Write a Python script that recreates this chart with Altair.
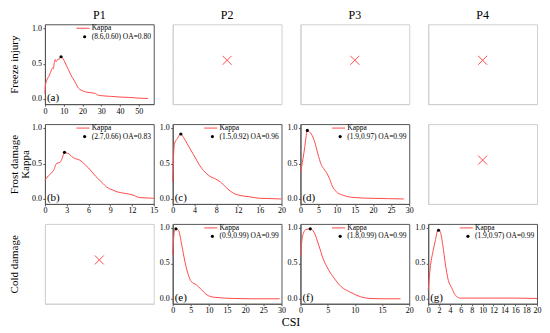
import altair as alt
import pandas as pd

# ---------------- data ----------------
col_titles = ["P1", "P2", "P3", "P4"]
row_titles = [["Freeze injury", " "], ["Frost damage", "Kappa"], ["Cold damage", " "]]

a_csi = [0, 0.3, 1, 2, 3, 4, 4.5, 5, 5.5, 6, 6.5, 7, 7.5, 8, 8.6, 9.5, 10.5, 11.5, 12.5, 13.5, 14.5,
         15.5, 16.5, 17.5, 18.5, 20, 22, 25, 27, 28, 30, 35, 40, 45, 50, 55]
a_kappa = [0.08, 0.2, 0.27, 0.32, 0.38, 0.44, 0.43, 0.52, 0.56, 0.53, 0.55, 0.57, 0.56, 0.59, 0.60, 0.58,
           0.53, 0.47, 0.42, 0.36, 0.31, 0.27, 0.22, 0.17, 0.14, 0.12, 0.10, 0.09, 0.08, 0.06, 0.05, 0.04,
           0.03, 0.025, 0.015, 0.01]

b_csi = [0, 0.5, 1, 1.3, 1.5, 1.8, 2.1, 2.4, 2.7, 3.0, 3.3, 3.7, 4.2, 4.8, 5.5, 6, 6.5, 7, 7.5, 8, 8.5,
         9, 9.5, 10, 11, 12, 12.5, 13, 14, 15]
b_kappa = [0.27, 0.33, 0.38, 0.43, 0.49, 0.51, 0.52, 0.58, 0.66, 0.65, 0.64, 0.60, 0.57, 0.55, 0.49, 0.44,
           0.38, 0.32, 0.27, 0.22, 0.17, 0.14, 0.12, 0.10, 0.08, 0.06, 0.04, 0.02, 0.015, 0.01]

c_csi = [0, 0.3, 0.9, 1.5, 2.0, 2.6, 3.2, 3.8, 4.4, 5.0, 5.7, 6.5, 7.1, 7.7, 8.8, 10, 11.2, 12.4, 14.2,
         16, 18, 20]
c_kappa = [0.24, 0.77, 0.86, 0.92, 0.87, 0.79, 0.71, 0.63, 0.55, 0.47, 0.40, 0.34, 0.31, 0.29, 0.24,
           0.15, 0.08, 0.05, 0.03, 0.01, 0.005, 0.0]

d_csi = [0, 0.7, 1.2, 1.6, 1.9, 2.5, 3.0, 3.9, 4.8, 5.7, 6.4, 7.1, 8.0, 8.8, 10.2, 11.9, 15, 19.5, 24, 28.5]
d_kappa = [0.38, 0.57, 0.74, 0.90, 0.97, 0.95, 0.92, 0.81, 0.64, 0.49, 0.43, 0.38, 0.29, 0.18, 0.09,
           0.05, 0.02, 0.01, 0.005, 0.0]

e_csi = [0, 0.45, 0.9, 1.6, 2.5, 3.4, 4.3, 5.2, 6.5, 7.9, 9.2, 10.5, 11.9, 16.8, 22, 29.5]
e_kappa = [0.62, 0.95, 0.99, 0.97, 0.76, 0.52, 0.34, 0.24, 0.20, 0.13, 0.065, 0.03, 0.02, 0.005, 0.0, 0.0]

f_csi = [0, 0.4, 1.0, 1.8, 2.5, 3.4, 4.2, 5.1, 6.3, 7.5, 9, 9.8, 11, 12.8, 15, 18.4]
f_kappa = [0.61, 0.89, 0.98, 0.99, 0.94, 0.75, 0.56, 0.42, 0.28, 0.17, 0.10, 0.07, 0.03, 0.005, 0.0, 0.0]

g_csi = [0, 0.42, 0.9, 1.3, 1.7, 1.9, 2.2, 2.7, 3.1, 3.7, 4.3, 4.9, 5.5, 5.8, 8, 12, 16, 20]
g_kappa = [0.12, 0.47, 0.68, 0.82, 0.96, 0.97, 0.95, 0.75, 0.52, 0.26, 0.16, 0.06, 0.02, 0.01, 0.01,
           0.01, 0.01, 0.005]

peaks_csi = [8.6, 2.7, 1.5, 1.9, 0.9, 1.8, 1.9]
peaks_kappa = [0.60, 0.66, 0.92, 0.97, 0.99, 0.99, 0.97]
legend_labels = ["(8.6,0.60) OA=0.80", "(2.7,0.66) OA=0.83", "(1.5,0.92) OA=0.96", "(1.9,0.97) OA=0.99",
                 "(0.9,0.99) OA=0.99", "(1.8,0.99) OA=0.99", "(1.9,0.97) OA=0.99"]
panel_letters = ["(a)", "(b)", "(c)", "(d)", "(e)", "(f)", "(g)"]
x_max = [58, 15, 20, 30, 30, 20, 20]
x_ticks = [[0, 10, 20, 30, 40, 50], [0, 3, 6, 9, 12, 15], [0, 4, 8, 12, 16, 20],
           [0, 5, 10, 15, 20, 25, 30], [0, 5, 10, 15, 20, 25, 30], [0, 5, 10, 15, 20],
           [0, 2, 4, 6, 8, 10, 12, 14, 16, 18, 20]]
y_ticks = [0.0, 0.5, 1.0]
y_tick_labels = ["0.0", "0.5", "1.0"]
series = [(a_csi, a_kappa), (b_csi, b_kappa), (c_csi, c_kappa), (d_csi, d_kappa),
          (e_csi, e_kappa), (f_csi, f_kappa), (g_csi, g_kappa)]

# grid: which data panel (index) or None for empty, row-major
grid = [[0, None, None, None],
        [1, 2, 3, None],
        [None, 4, 5, 6]]

# ---------------- style ----------------
W, H = 109, 80
YDOM = [-0.07, 1.06]
RED = "#ff4a4a"
DARK = "#555555"
LIGHT = "#d0d0d0"
FONT = "Liberation Serif"


def y_axis(title_lines, hidden):
    # axis labels are kept (white) only to reserve space; visible labels are drawn as a text layer
    kw = dict(values=y_ticks, format=".1f", grid=False, labelOverlap=False, labelFlush=False,
              labelFont=FONT, labelFontSize=8, labelColor="white")
    if title_lines:
        kw.update(title=title_lines, titleFontSize=11, titleLineHeight=11, titleFontWeight="normal",
                  titlePadding=1, titleColor="black", titleFont=FONT)
    else:
        kw["title"] = None
    if hidden:
        kw.update(tickColor="white", domainColor=LIGHT)
    else:
        kw.update(tickColor=DARK, domainColor=DARK)
    return alt.Axis(**kw)


def x_axis(values, hidden):
    kw = dict(values=values, format="d", title=None, grid=False, labelFlush=False, labelOverlap=False,
              labelFont=FONT, labelFontSize=8)
    if hidden:
        kw.update(labels=False, ticks=False, domainColor=LIGHT)
    else:
        kw.update(labelColor="black", tickColor=DARK, domainColor=DARK)
    return alt.Axis(**kw)


def col_title(c):
    return alt.TitleParams(text=col_titles[c], fontSize=12, fontWeight="normal", offset=2,
                           anchor="middle", font=FONT, color="black")


def data_panel(i, r, c):
    csi, kappa = series[i]
    df = pd.DataFrame({"csi": csi, "kappa": kappa})
    xs = alt.X("csi:Q", scale=alt.Scale(domain=[0, x_max[i]], nice=False, zero=False),
               axis=x_axis(x_ticks[i], False))
    yax = y_axis(row_titles[r] if c == 0 else None, False)
    ys = alt.Y("kappa:Q", scale=alt.Scale(domain=YDOM, nice=False, zero=False), axis=yax)
    line = alt.Chart(df).mark_line(color=RED, strokeWidth=1, interpolate="monotone").encode(x=xs, y=ys)
    pk_df = pd.DataFrame({"csi": [peaks_csi[i]], "kappa": [peaks_kappa[i]]})
    pk = alt.Chart(pk_df).mark_point(filled=True, color="black", size=10, opacity=1).encode(x=xs, y=ys)
    # y tick labels through the y scale
    yl_df = pd.DataFrame({"kappa": y_ticks, "s": y_tick_labels})
    ylab = alt.Chart(yl_df).mark_text(align="right", baseline="middle", fontSize=8, font=FONT,
                                      color="black").encode(x=alt.value(-3), y=ys, text="s:N")
    leg_df = pd.DataFrame({"t": [legend_labels[i]], "l": [panel_letters[i]]})
    base = alt.Chart(leg_df)
    lrule = base.mark_rule(color=RED, strokeWidth=1).encode(
        x=alt.value(0.29 * W), x2=alt.value(0.41 * W), y=alt.value(4))
    ltxt = base.mark_text(align="left", baseline="middle", fontSize=7.5, font=FONT, color="black").encode(
        x=alt.value(0.43 * W), y=alt.value(4), text=alt.value("Kappa"))
    ldot = base.mark_point(filled=True, color="black", size=10, opacity=1).encode(
        x=alt.value(0.365 * W), y=alt.value(12.5))
    ltxt2 = base.mark_text(align="left", baseline="middle", fontSize=7.5, font=FONT, color="black").encode(
        x=alt.value(0.43 * W), y=alt.value(12.5), text="t:N")
    letter = base.mark_text(align="left", baseline="middle", fontSize=11, font=FONT, color="black").encode(
        x=alt.value(2), y=alt.value(H - 6), text="l:N")
    ch = alt.layer(line, pk, ylab, lrule, ltxt, ldot, ltxt2, letter).properties(
        width=W, height=H, view=alt.ViewBackground(stroke=DARK))
    if r == 0:
        ch = ch.properties(title=col_title(c))
    return ch


def empty_panel(r, c):
    df = pd.DataFrame({"u": [0.5], "v": [0.55]})
    ch = alt.Chart(df).mark_point(shape="M-1,-1L1,1M1,-1L-1,1", filled=False, color=RED, size=81,
                                  strokeWidth=1, opacity=1).encode(
        x=alt.X("u:Q", scale=alt.Scale(domain=[0, 1], nice=False), axis=x_axis([0, 1], True)),
        y=alt.Y("v:Q", scale=alt.Scale(domain=YDOM, nice=False, zero=False),
                axis=y_axis(row_titles[r] if c == 0 else None, True)),
    ).properties(width=W, height=H, view=alt.ViewBackground(stroke=LIGHT))
    if r == 0:
        ch = ch.properties(title=col_title(c))
    return ch


panels = []
for r, row in enumerate(grid):
    for c, idx in enumerate(row):
        panels.append(data_panel(idx, r, c) if idx is not None else empty_panel(r, c))

chart = alt.concat(*panels, columns=4, spacing={"row": 7, "column": 0}, align="each").properties(
    padding=0,
    title=alt.TitleParams(text="CSI", orient="bottom", anchor="middle", fontSize=12, fontWeight="normal",
                          offset=2, dx=16, font=FONT, color="black"),
).configure(font=FONT).configure_axis(
    labelFontSize=8, labelFont=FONT, tickSize=2, labelPadding=1, domainWidth=1, tickWidth=1,
    labelOverlap=False,
).configure_axisY(minExtent=13, maxExtent=13, labelOverlap=False).configure_title(font=FONT)

chart.save("out.html", embed_options={"renderer": "svg", "actions": False})
